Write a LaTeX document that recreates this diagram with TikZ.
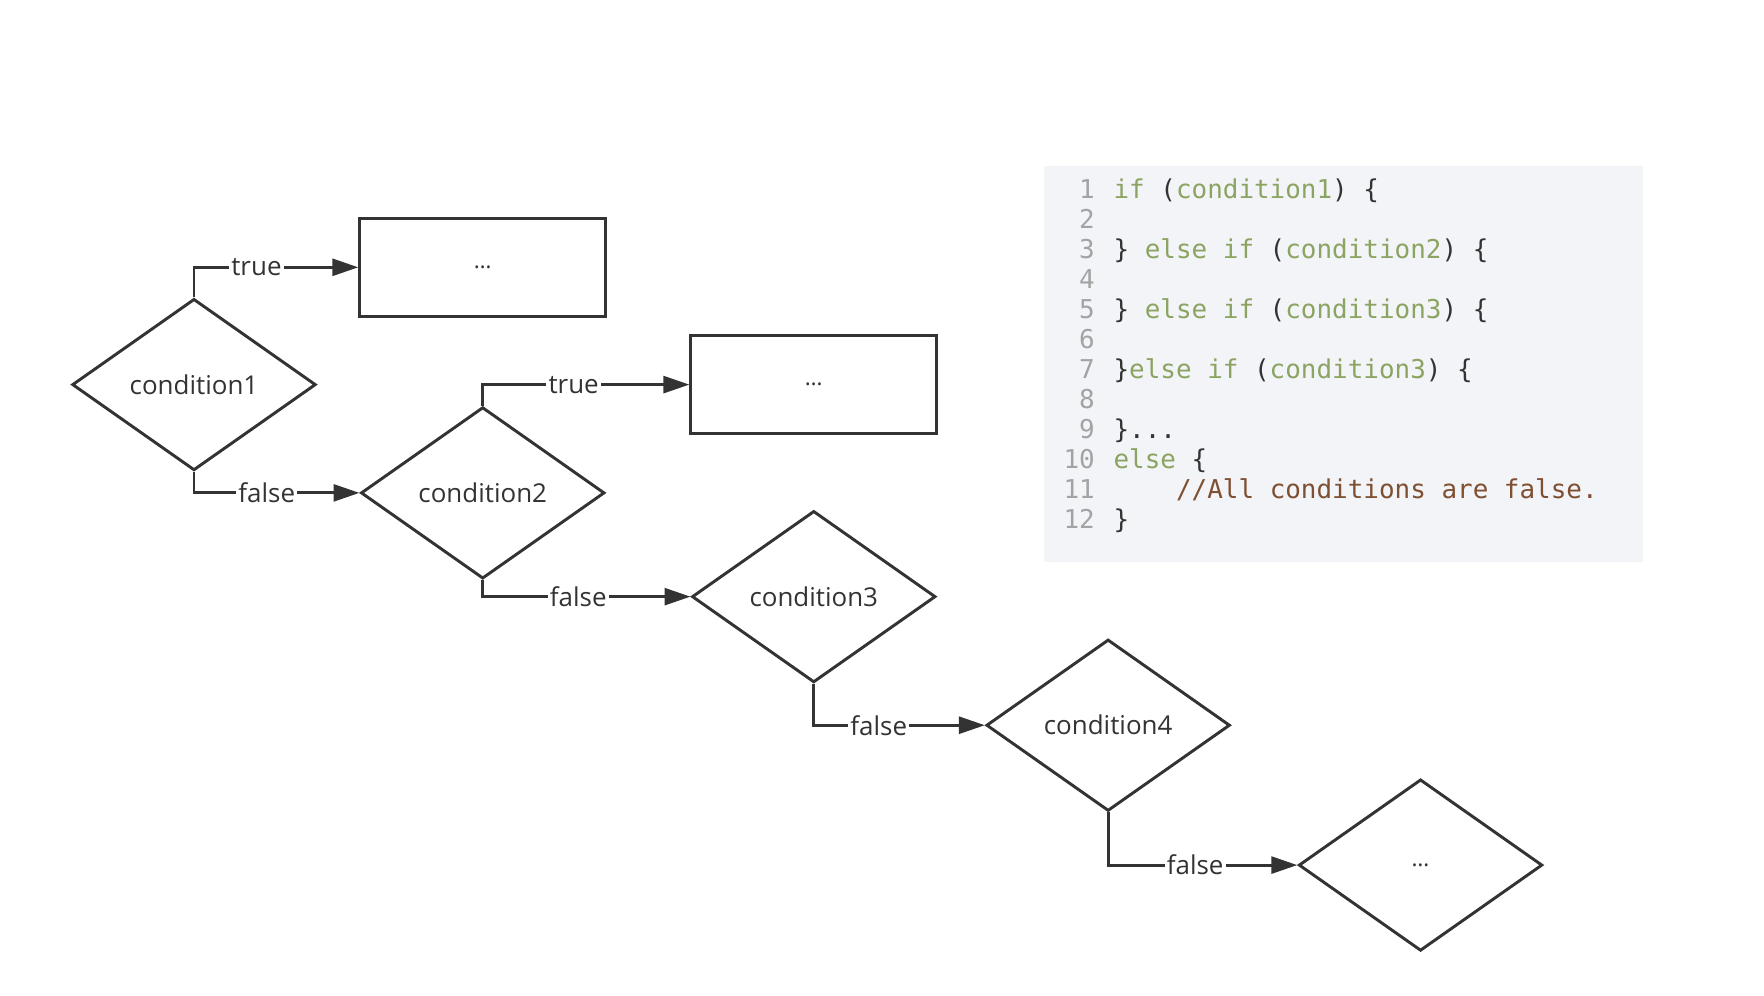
\documentclass[tikz,border=0pt]{standalone}
\usepackage{fontspec}
\setmainfont{Open Sans}
\setmonofont{DejaVu Sans Mono}
\usetikzlibrary{shapes.geometric, arrows.meta}
\definecolor{ink}{HTML}{333333}
\definecolor{kwgreen}{HTML}{8CA462}
\definecolor{cmtbrown}{HTML}{7F4F32}
\definecolor{lnogray}{HTML}{A3A3A3}
\definecolor{codebg}{HTML}{F3F4F8}
\newcommand{\ckw}[1]{\textcolor{kwgreen}{#1}}

\begin{document}
\begin{tikzpicture}[x=1pt, y=-1pt, line width=2.6pt, font=\fontsize{23}{27}\selectfont,
  cond/.style = {draw=ink, diamond, aspect=1.42, minimum width=216pt, minimum height=152pt, inner sep=0pt, text=ink},
  act/.style = {draw=ink, rectangle, minimum width=218pt, minimum height=87pt, text=ink},
  dots/.style = {font=\fontsize{20}{24}\selectfont},
  flow/.style = {draw=ink, -{Triangle[length=23pt, width=15pt]}},
  lbl/.style = {pos=0.69, fill=white, inner xsep=2pt, inner ysep=0pt, text=ink},
  lno/.style = {anchor=base east, inner sep=0pt, text=lnogray, font=\ttfamily\fontsize{23}{26}\selectfont},
  code/.style = {anchor=base west, inner sep=0pt, text=ink, font=\ttfamily\fontsize{23}{26}\selectfont}]
\useasboundingbox (0,0) rectangle (1564,883);
% flow chart
\node[cond] (1) at (172,341) {condition1};
\node[act, dots] (b1) at (428,237) {…};
\node[cond] (2) at (428,437) {condition2};
\node[act, dots] (b2) at (721.5,341) {…};
\node[cond] (3) at (721.5,529) {condition3};
\node[cond] (4) at (982.5,643) {condition4};
\node[cond, dots] (5) at (1259.5,767) {…};
\draw[flow] (1.north) |- node[lbl] {true} (b1.west);
\draw[flow] (1.south) |- node[lbl, pos=0.72] {false} (2.west);
\draw[flow] (2.north) |- node[lbl, pos=0.72] {true} (b2.west);
\draw[flow] (2.south) |- node[lbl, pos=0.73] {false} (3.west);
\draw[flow] (3.south) |- node[lbl] {false} (4.west);
\draw[flow] (4.south) |- node[lbl, pos=0.73] {false} (5.west);
% code listing
\fill[codebg] (926,147) rectangle (1457,498);
\foreach \n in {1,...,12}
  \node[lno] (n\n) at (972,{176+(\n-1)*26.6}) {\n};
\node[code] (l1) at (986,176) {\ckw{if} (\ckw{condition1}) \{};
\node[code] (l3) at (986,229.2) {\} \ckw{else} \ckw{if} (\ckw{condition2}) \{};
\node[code] (l5) at (986,282.4) {\} \ckw{else} \ckw{if} (\ckw{condition3}) \{};
\node[code] (l7) at (986,335.6) {\}\ckw{else} \ckw{if} (\ckw{condition3}) \{};
\node[code] (l9) at (986,388.8) {\}...};
\node[code] (l10) at (986,415.4) {\ckw{else} \{};
\node[code, text=cmtbrown] (l11) at (1041.4,442) {//All conditions are false.};
\node[code] (l12) at (986,468.6) {\}};
\end{tikzpicture}
\end{document}
